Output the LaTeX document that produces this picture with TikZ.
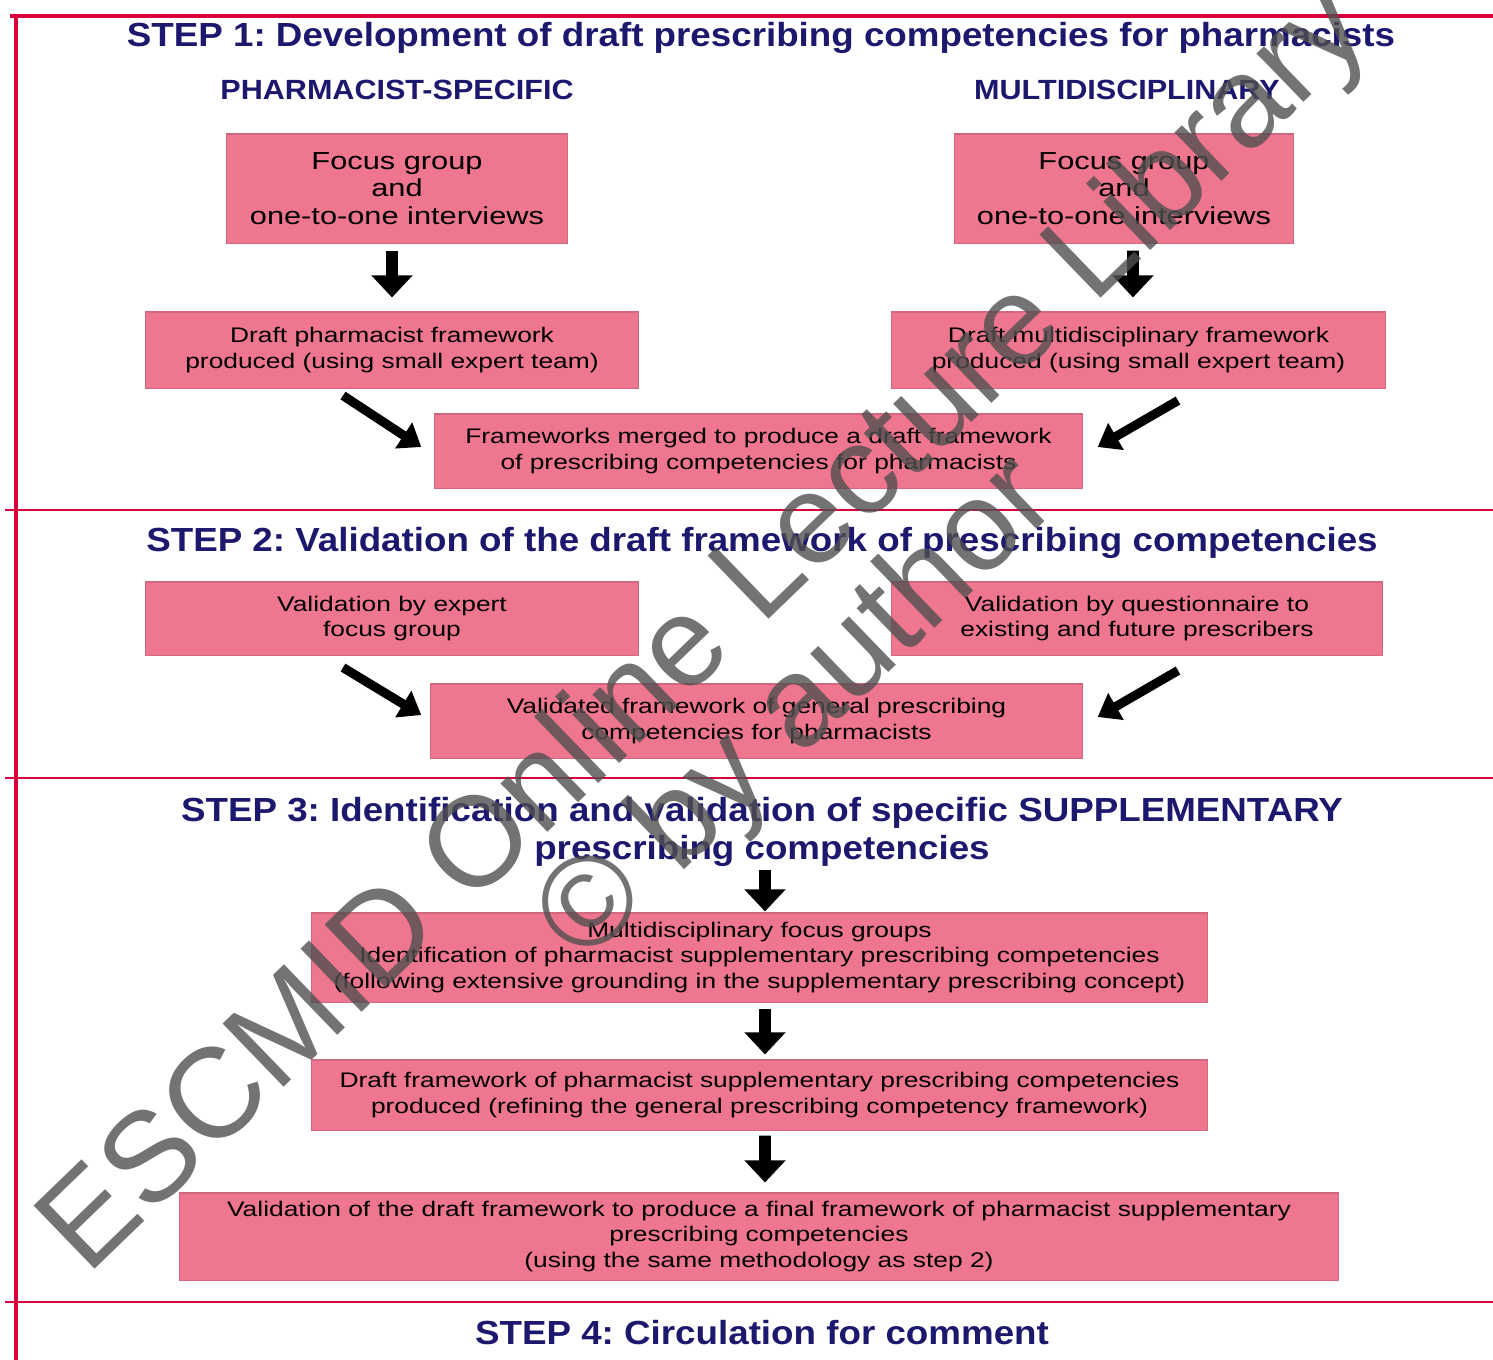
\documentclass[tikz,border=0pt]{standalone}
\usepackage{fontspec}
\setmainfont{Liberation Sans}
\newfontfamily\headfont[FakeStretch=1.1]{Liberation Sans}
\newfontfamily\boxfont[FakeStretch=1.25]{Liberation Sans}
\usetikzlibrary{arrows.meta}
\definecolor{framered}{RGB}{214,0,58}
\definecolor{boxpink}{RGB}{239,118,143}
\definecolor{headblue}{RGB}{28,24,110}
\definecolor{markgray}{RGB}{80,80,80}
\frenchspacing
\begin{document}
\begin{tikzpicture}[x=0.01cm,y=-0.01cm,
	box/.style={fill=boxpink,draw=boxpink!88!black,line width=0.3pt,inner sep=0pt,align=center,font=\boxfont\fontsize{6}{7.2}\selectfont},
	head/.style={text=headblue,align=center,inner sep=0pt,font=\headfont\bfseries\fontsize{9.5}{10.8}\selectfont},
	side/.style={text=headblue,inner sep=0pt,font=\headfont\bfseries\fontsize{7.9}{9}\selectfont},
	down/.style={-{Triangle[width=11.4pt,length=6.3pt]},line width=3.4pt},
	slant/.style={-{Triangle[width=8.5pt,length=6pt]},line width=2.6pt},
	rule/.style={framered,line width=0.7pt},
	wmark/.style={text=markgray,text opacity=0.8,inner sep=0pt,rotate=44,font=\fontsize{36.3}{36.3}\selectfont}]
		\useasboundingbox (0,0) rectangle (1493,1360);
		% frame and step rules
		\draw[framered,line width=1.4pt] (10,16) -- (1493,16);
		\draw[framered,line width=1.1pt] (16,16) -- (16,1360);
		\foreach \y in {510,778,1302}
			\draw[rule] (5,\y) -- (1493,\y);
		% step 1 nodes
		\node[head] (step1) at (761,38) {STEP 1: Development of draft prescribing competencies for pharmacists};
		\node[side] (pharmspec) at (397,90) {PHARMACIST-SPECIFIC};
		\node[side] (multidisc) at (1127,90) {MULTIDISCIPLINARY};
		\node[box,minimum width=3.4cm,minimum height=1.09cm,font=\boxfont\fontsize{7}{7.8}\selectfont] (focusL) at (397,188.5) {Focus group\\and\\one-to-one interviews};
		\node[box,minimum width=3.39cm,minimum height=1.09cm,font=\boxfont\fontsize{7}{7.8}\selectfont] (focusR) at (1124,188.5) {Focus group\\and\\one-to-one interviews};
		\node[box,minimum width=4.92cm,minimum height=0.76cm] (draftL) at (392,350) {Draft pharmacist framework\\produced (using small expert team)};
		\node[box,minimum width=4.93cm,minimum height=0.76cm] (draftR) at (1138.5,350) {Draft multidisciplinary framework\\produced (using small expert team)};
		\node[box,minimum width=6.47cm,minimum height=0.74cm] (merged) at (758.5,451) {Frameworks merged to produce a draft framework\\of prescribing competencies for pharmacists};
		% step 2 nodes
		\node[head] (step2) at (762,543) {STEP 2: Validation of the draft framework of prescribing competencies};
		\node[box,minimum width=4.92cm,minimum height=0.73cm] (valL) at (392,618.5) {Validation by expert\\focus group};
		\node[box,minimum width=4.9cm,minimum height=0.73cm] (valR) at (1137,618.5) {Validation by questionnaire to\\existing and future prescribers};
		\node[box,minimum width=6.51cm,minimum height=0.74cm] (valid) at (756.5,721) {Validated framework of general prescribing\\competencies for pharmacists};
		% step 3 nodes
		\node[head] (step3) at (762,832) {STEP 3: Identification and validation of specific SUPPLEMENTARY\\prescribing competencies};
		\node[box,minimum width=8.95cm,minimum height=0.89cm] (multi) at (759.5,957.5) {Multidisciplinary focus groups\\Identification of pharmacist supplementary prescribing competencies\\(following extensive grounding in the supplementary prescribing concept)};
		\node[box,minimum width=8.95cm,minimum height=0.7cm] (draft3) at (759.5,1095) {Draft framework of pharmacist supplementary prescribing competencies\\produced (refining the general prescribing competency framework)};
		\node[box,minimum width=11.58cm,minimum height=0.87cm] (final) at (759,1236.5) {Validation of the draft framework to produce a final framework of pharmacist supplementary\\prescribing competencies\\(using the same methodology as step 2)};
		% step 4 node
		\node[head] (step4) at (762,1333) {STEP 4: Circulation for comment};
		% connect them
		\draw[down,shorten <=0.07cm,shorten >=0.14cm] (focusL.south -| draftL.north) -- (draftL.north);
		\draw[down,shorten <=0.07cm,shorten >=0.14cm] ([xshift=0.09cm]focusR.south) -- ([xshift=-0.055cm]draftR.north);
		\draw[slant] ([shift={(-49,7)}]draftL.south) -- ([shift={(-13,-4)}]merged.west);
		\draw[slant] ([shift={(39.5,12)}]draftR.south) -- ([shift={(15,-4)}]merged.east);
		\draw[slant] ([shift={(-49,12)}]valL.south) -- ([shift={(-9,-6)}]valid.west);
		\draw[slant] ([shift={(41,15)}]valR.south) -- ([shift={(15,-4)}]valid.east);
		\draw[down,shorten <=0.03cm,shorten >=0.01cm] ([xshift=0.055cm]step3.south -| multi.north) -- ([xshift=0.055cm]multi.north);
		\draw[down,shorten <=0.06cm,shorten >=0.05cm] ([xshift=0.055cm]multi.south) -- ([xshift=0.055cm]draft3.north);
		\draw[down,shorten <=0.05cm,shorten >=0.1cm] ([xshift=0.055cm]draft3.south) -- ([xshift=0.06cm]final.north);
		% watermark
		\node[wmark] (wmA) at (708,632) {ESCMID Online Lecture Library};
		\node[wmark] (wmB) at (800,712) {© by author};
	\end{tikzpicture}
\end{document}
